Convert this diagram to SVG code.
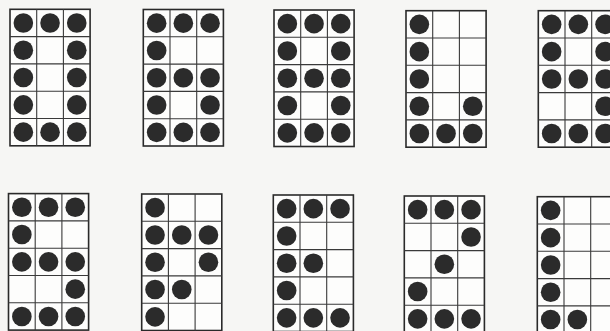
<svg xmlns="http://www.w3.org/2000/svg" xmlns:xlink="http://www.w3.org/1999/xlink" width="610" height="331" viewBox="0 0 610 331">
<style>
.frame{fill:#fdfdfc;stroke:#2a2a2a;stroke-width:1.6}
.line{stroke:#3a3a3a;stroke-width:1.1;fill:none}
.dot{fill:#2b2b2b}
</style>
<defs>
<g id="grid">
<rect class="frame" x="0" y="0" width="80.1" height="136.5"/>
<path class="line" d="M26.7 0V136.5M53.4 0V136.5M0 27.3H80.1M0 54.6H80.1M0 81.9H80.1M0 109.2H80.1"/>
</g>
<circle id="d" class="dot" r="9.8"/>
</defs>
<rect width="610" height="331" fill="#f6f6f4"/>
<g id="connectors"/>
<g id="g1" transform="translate(10,9.3)">
<use xlink:href="#grid"/>
<use xlink:href="#d" x="13.35" y="13.65"/><use xlink:href="#d" x="40.05" y="13.65"/><use xlink:href="#d" x="66.75" y="13.65"/>
<use xlink:href="#d" x="13.35" y="40.95"/><use xlink:href="#d" x="66.75" y="40.95"/>
<use xlink:href="#d" x="13.35" y="68.25"/><use xlink:href="#d" x="66.75" y="68.25"/>
<use xlink:href="#d" x="13.35" y="95.55"/><use xlink:href="#d" x="66.75" y="95.55"/>
<use xlink:href="#d" x="13.35" y="122.85"/><use xlink:href="#d" x="40.05" y="122.85"/><use xlink:href="#d" x="66.75" y="122.85"/>
</g>
<g id="g2" transform="translate(143.3,9.5)">
<use xlink:href="#grid"/>
<use xlink:href="#d" x="13.35" y="13.65"/><use xlink:href="#d" x="40.05" y="13.65"/><use xlink:href="#d" x="66.75" y="13.65"/>
<use xlink:href="#d" x="13.35" y="40.95"/>
<use xlink:href="#d" x="13.35" y="68.25"/><use xlink:href="#d" x="40.05" y="68.25"/><use xlink:href="#d" x="66.75" y="68.25"/>
<use xlink:href="#d" x="13.35" y="95.55"/><use xlink:href="#d" x="66.75" y="95.55"/>
<use xlink:href="#d" x="13.35" y="122.85"/><use xlink:href="#d" x="40.05" y="122.85"/><use xlink:href="#d" x="66.75" y="122.85"/>
</g>
<g id="g3" transform="translate(274,10)">
<use xlink:href="#grid"/>
<use xlink:href="#d" x="13.35" y="13.65"/><use xlink:href="#d" x="40.05" y="13.65"/><use xlink:href="#d" x="66.75" y="13.65"/>
<use xlink:href="#d" x="13.35" y="40.95"/><use xlink:href="#d" x="66.75" y="40.95"/>
<use xlink:href="#d" x="13.35" y="68.25"/><use xlink:href="#d" x="40.05" y="68.25"/><use xlink:href="#d" x="66.75" y="68.25"/>
<use xlink:href="#d" x="13.35" y="95.55"/><use xlink:href="#d" x="66.75" y="95.55"/>
<use xlink:href="#d" x="13.35" y="122.85"/><use xlink:href="#d" x="40.05" y="122.85"/><use xlink:href="#d" x="66.75" y="122.85"/>
</g>
<g id="g4" transform="translate(406,10.7)">
<use xlink:href="#grid"/>
<use xlink:href="#d" x="13.35" y="13.65"/>
<use xlink:href="#d" x="13.35" y="40.95"/>
<use xlink:href="#d" x="13.35" y="68.25"/>
<use xlink:href="#d" x="13.35" y="95.55"/><use xlink:href="#d" x="66.75" y="95.55"/>
<use xlink:href="#d" x="13.35" y="122.85"/><use xlink:href="#d" x="40.05" y="122.85"/><use xlink:href="#d" x="66.75" y="122.85"/>
</g>
<g id="g5" transform="translate(538.3,10.7)">
<use xlink:href="#grid"/>
<use xlink:href="#d" x="13.35" y="13.65"/><use xlink:href="#d" x="40.05" y="13.65"/><use xlink:href="#d" x="66.75" y="13.65"/>
<use xlink:href="#d" x="13.35" y="40.95"/><use xlink:href="#d" x="66.75" y="40.95"/>
<use xlink:href="#d" x="13.35" y="68.25"/><use xlink:href="#d" x="40.05" y="68.25"/><use xlink:href="#d" x="66.75" y="68.25"/>
<use xlink:href="#d" x="66.75" y="95.55"/>
<use xlink:href="#d" x="13.35" y="122.85"/><use xlink:href="#d" x="40.05" y="122.85"/><use xlink:href="#d" x="66.75" y="122.85"/>
</g>
<g id="g6" transform="translate(8.5,193.6)">
<use xlink:href="#grid"/>
<use xlink:href="#d" x="13.35" y="13.65"/><use xlink:href="#d" x="40.05" y="13.65"/><use xlink:href="#d" x="66.75" y="13.65"/>
<use xlink:href="#d" x="13.35" y="40.95"/>
<use xlink:href="#d" x="13.35" y="68.25"/><use xlink:href="#d" x="40.05" y="68.25"/><use xlink:href="#d" x="66.75" y="68.25"/>
<use xlink:href="#d" x="66.75" y="95.55"/>
<use xlink:href="#d" x="13.35" y="122.85"/><use xlink:href="#d" x="40.05" y="122.85"/><use xlink:href="#d" x="66.75" y="122.85"/>
</g>
<g id="g7" transform="translate(141.7,194)">
<use xlink:href="#grid"/>
<use xlink:href="#d" x="13.35" y="13.65"/>
<use xlink:href="#d" x="13.35" y="40.95"/><use xlink:href="#d" x="40.05" y="40.95"/><use xlink:href="#d" x="66.75" y="40.95"/>
<use xlink:href="#d" x="13.35" y="68.25"/><use xlink:href="#d" x="66.75" y="68.25"/>
<use xlink:href="#d" x="13.35" y="95.55"/><use xlink:href="#d" x="40.05" y="95.55"/>
<use xlink:href="#d" x="13.35" y="122.85"/>
</g>
<g id="g8" transform="translate(273.3,195)">
<use xlink:href="#grid"/>
<use xlink:href="#d" x="13.35" y="13.65"/><use xlink:href="#d" x="40.05" y="13.65"/><use xlink:href="#d" x="66.75" y="13.65"/>
<use xlink:href="#d" x="13.35" y="40.95"/>
<use xlink:href="#d" x="13.35" y="68.25"/><use xlink:href="#d" x="40.05" y="68.25"/>
<use xlink:href="#d" x="13.35" y="95.55"/>
<use xlink:href="#d" x="13.35" y="122.85"/><use xlink:href="#d" x="40.05" y="122.85"/><use xlink:href="#d" x="66.75" y="122.85"/>
</g>
<g id="g9" transform="translate(404.3,196)">
<use xlink:href="#grid"/>
<use xlink:href="#d" x="13.35" y="13.65"/><use xlink:href="#d" x="40.05" y="13.65"/><use xlink:href="#d" x="66.75" y="13.65"/>
<use xlink:href="#d" x="66.75" y="40.95"/>
<use xlink:href="#d" x="40.05" y="68.25"/>
<use xlink:href="#d" x="13.35" y="95.55"/>
<use xlink:href="#d" x="13.35" y="122.85"/><use xlink:href="#d" x="40.05" y="122.85"/><use xlink:href="#d" x="66.75" y="122.85"/>
</g>
<g id="g10" transform="translate(537.3,196.7)">
<use xlink:href="#grid"/>
<use xlink:href="#d" x="13.35" y="13.65"/>
<use xlink:href="#d" x="13.35" y="40.95"/>
<use xlink:href="#d" x="13.35" y="68.25"/>
<use xlink:href="#d" x="13.35" y="95.55"/>
<use xlink:href="#d" x="13.35" y="122.85"/><use xlink:href="#d" x="40.05" y="122.85"/>
</g>
</svg>
